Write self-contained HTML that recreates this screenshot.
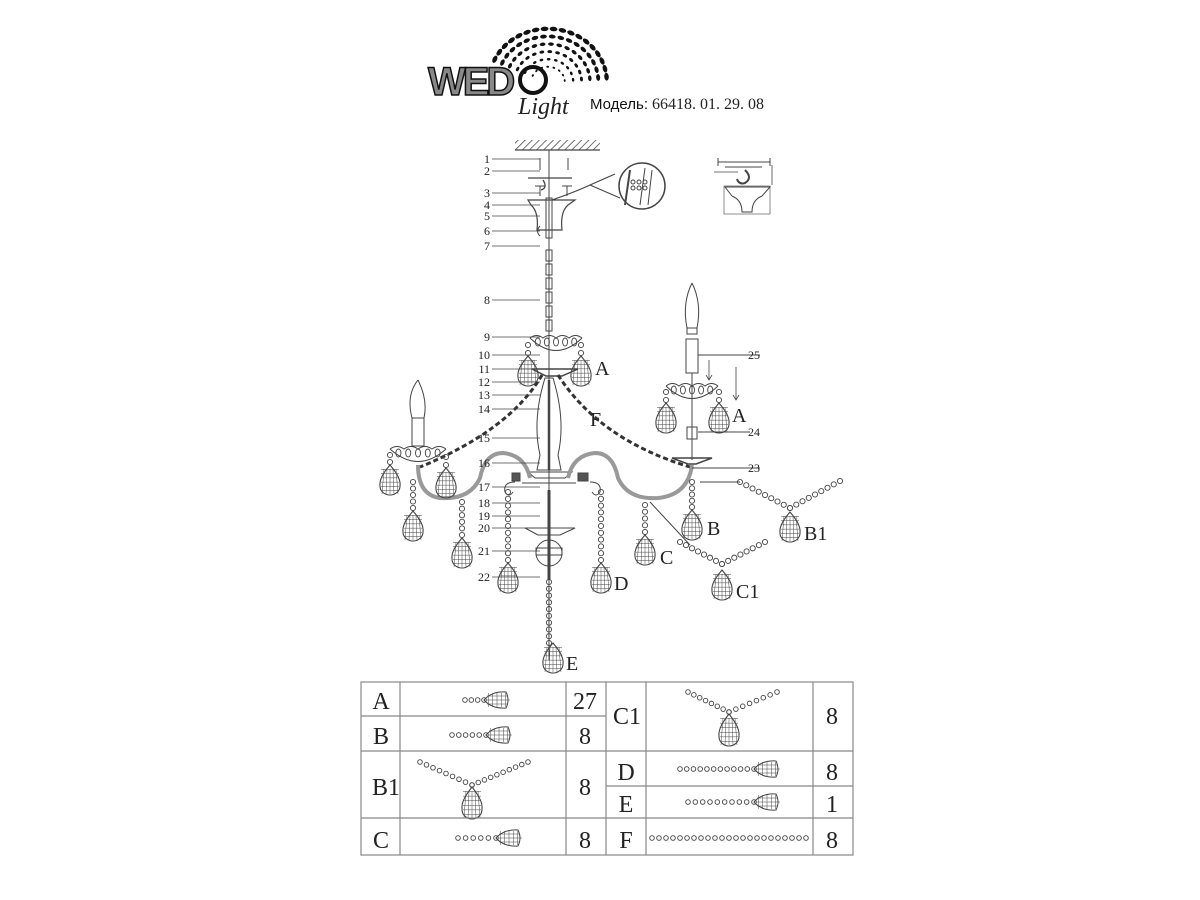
<!DOCTYPE html>
<html><head><meta charset="utf-8"><style>
body{margin:0;background:#fff;width:1200px;height:900px;overflow:hidden}
svg{position:absolute;left:0;top:0}
.t{font-family:"Liberation Serif",serif;fill:#222}
</style></head><body>
<svg id="s" width="1200" height="900" viewBox="0 0 1200 900">
<defs>
<pattern id="hatch" width="5" height="5" patternUnits="userSpaceOnUse" patternTransform="rotate(45)"><line x1="0" y1="0" x2="0" y2="5" stroke="#444" stroke-width="1.5"/></pattern>
</defs>
<g id="logo"></g>
<g>
<text x="428" y="95" font-family="Liberation Sans" font-weight="bold" font-size="40" fill="#888" stroke="#111" stroke-width="1.5" letter-spacing="-3">WED</text>
<circle cx="533" cy="80" r="13" fill="none" stroke="#111" stroke-width="4"/>
<text x="518" y="114" font-family="Liberation Serif" font-style="italic" font-size="24" fill="#222">Light</text>
<text x="590" y="109" font-family="Liberation Sans" font-size="15" fill="#111">Модель:</text>
<text x="652" y="109" class="t" font-size="16">66418. 01. 29. 08</text>
</g>
<g id="draw" stroke="#444" fill="none" stroke-width="1"></g>
<g id="labels" class="t" font-size="12"></g>
<g stroke="#888" stroke-width="1.2" fill="none">
<rect x="361" y="682" width="492" height="173"/>
<line x1="400" y1="682" x2="400" y2="855"/><line x1="566" y1="682" x2="566" y2="855"/><line x1="606" y1="682" x2="606" y2="855"/>
<line x1="646" y1="682" x2="646" y2="855"/><line x1="813" y1="682" x2="813" y2="855"/>
<line x1="361" y1="716" x2="606" y2="716"/><line x1="361" y1="751" x2="853" y2="751"/><line x1="361" y1="818" x2="853" y2="818"/>
<line x1="606" y1="786" x2="853" y2="786"/>
</g>
<g class="t" font-size="24" text-anchor="middle">
<text x="381" y="709">A</text><text x="381" y="744">B</text><text x="386" y="795">B1</text><text x="381" y="848">C</text>
<text x="585" y="709">27</text><text x="585" y="744">8</text><text x="585" y="795">8</text><text x="585" y="848">8</text>
<text x="627" y="724">C1</text><text x="626" y="780">D</text><text x="626" y="812">E</text><text x="626" y="848">F</text>
<text x="832" y="724">8</text><text x="832" y="780">8</text><text x="832" y="812">1</text><text x="832" y="848">8</text>
</g>
<g class="t" font-size="20">
<text x="595" y="375">A</text><text x="732" y="422">A</text><text x="590" y="426">F</text>
<text x="707" y="535">B</text><text x="804" y="540">B1</text><text x="660" y="564">C</text><text x="736" y="598">C1</text>
<text x="614" y="590">D</text><text x="566" y="670">E</text>
</g>
</svg>
<script>
var NS="http://www.w3.org/2000/svg",D=document.getElementById('draw'),L=document.getElementById('labels'),G=document.getElementById('logo');
function el(p,t,a){var e=document.createElementNS(NS,t);for(var k in a)e.setAttribute(k,a[k]);p.appendChild(e);return e}
function drop(x,y,w,h){w=w||20;h=h||30;
 var r=w/2;var d="M"+x+" "+y+" C"+(x+r*0.5)+" "+(y+h*0.2)+" "+(x+r+1)+" "+(y+h*0.45)+" "+(x+r)+" "+(y+h*0.7)+" A"+r+" "+(h*0.3)+" 0 0 1 "+(x-r)+" "+(y+h*0.7)+" C"+(x-r-1)+" "+(y+h*0.45)+" "+(x-r*0.5)+" "+(y+h*0.2)+" "+x+" "+y+"Z";
 el(D,'path',{d:d,'stroke-width':1.1});
 for(var i=1;i<7;i++){var yy=y+h*i/7;el(D,'line',{x1:x-r*0.9,y1:yy,x2:x+r*0.9,y2:yy,'stroke-width':0.5})}
 for(var j=-2;j<=2;j++){el(D,'line',{x1:x+j*r*0.3,y1:y+4,x2:x+j*r*0.4,y2:y+h-1,'stroke-width':0.5})}
}
function hdrop(x,y){var w=26,h=9;
 el(D,'path',{d:"M"+x+" "+y+" Q"+(x+8)+" "+(y-h)+" "+(x+w-4)+" "+(y-h+1)+" Q"+(x+w)+" "+y+" "+(x+w-4)+" "+(y+h-1)+" Q"+(x+8)+" "+(y+h)+" "+x+" "+y+"Z",'stroke-width':1});
 for(var i=1;i<6;i++)el(D,'line',{x1:x+i*w/6,y1:y-h+2,x2:x+i*w/6,y2:y+h-2,'stroke-width':0.5});
 el(D,'line',{x1:x+3,y1:y-4,x2:x+w-2,y2:y-4,'stroke-width':0.5});el(D,'line',{x1:x+3,y1:y,x2:x+w,y2:y,'stroke-width':0.5});el(D,'line',{x1:x+3,y1:y+4,x2:x+w-2,y2:y+4,'stroke-width':0.5});
}
function chain(x1,y1,x2,y2,sp,rr){sp=sp||7;rr=rr||2.6;var dx=x2-x1,dy=y2-y1,l=Math.hypot(dx,dy),n=Math.max(1,Math.round(l/sp));
 for(var i=0;i<=n;i++)el(D,'circle',{cx:x1+dx*i/n,cy:y1+dy*i/n,r:rr,'stroke-width':0.9})}
function pend(x,y1,y2){chain(x,y1,x,y2-3);drop(x,y2)}
function line(a,b,c,d,w){el(D,'line',{x1:a,y1:b,x2:c,y2:d,'stroke-width':w||1})}
function path(d,w,extra){var o={d:d,'stroke-width':w||1};for(var k in extra)o[k]=extra[k];el(D,'path',o)}
// logo dots fan
for(var ring=0;ring<6;ring++){var rad=16+ring*8;var n=8+ring*2;
 for(var i=0;i<n;i++){var a=-2.7+i*(2.6/(n-1));
  el(G,'ellipse',{cx:548+Math.cos(a)*rad*1.05,cy:82+Math.sin(a)*rad*0.95,rx:1.4+ring*0.5,ry:1+ring*0.25,fill:'#111',transform:"rotate("+(a*57.3+90)+" "+(548+Math.cos(a)*rad*1.05)+" "+(82+Math.sin(a)*rad*0.95)+")"})}}
// ceiling
el(D,'rect',{x:515,y:140,width:85,height:10,fill:'url(#hatch)',stroke:'none'});line(515,150,600,150,1.2);
line(549,150,549,660,1);
line(540,158,540,170);line(568,158,568,170);line(528,178,572,178,1.2);
path("M543 180 q5 8 -2 10",1.3);
path("M535 186 h10 M540 186 v10 M562 186 h10 M567 186 v10",1);
path("M528 200 H575 L568 205 Q560 212 562 230 H537 Q539 212 531 205Z",1.2);
el(D,'rect',{x:546,y:198,width:6,height:40});
path("M540 226 q-5 5 0 10",1);
path("M552 200 Q575 192 590 185 L615 174",1.2);path("M590 185 L620 198",1);
el(D,'circle',{cx:642,cy:186,r:23,'stroke-width':1.5});
line(630,170,625,205,2);line(645,168,640,205,1);line(652,170,648,205,1);
for(var k=0;k<6;k++)el(D,'circle',{cx:633+(k%3)*6,cy:182+Math.floor(k/3)*6,r:2});
for(var y=250;y<330;y+=14)el(D,'rect',{x:546,y:y,width:6,height:11});
function bob(x,y,w){path("M"+(x-w)+" "+y+" Q"+x+" "+(y+25)+" "+(x+w)+" "+y,1);
 path("M"+(x-w)+" "+y+" q"+(w/4)+" -5 "+(w/2)+" 0 q"+(w/4)+" -5 "+(w/2)+" 0 q"+(w/4)+" -5 "+(w/2)+" 0 q"+(w/4)+" -5 "+(w/2)+" 0",1);
 for(var i=0;i<5;i++){el(D,'ellipse',{cx:x-w*0.7+i*w*0.35,cy:y+4,rx:2.5,ry:4,'stroke-width':0.9})}}
bob(556,338,26);pend(528,345,356);pend(581,345,356);
path("M532 369 H578 L562 376 H546Z",1.5);
path("M545 378 Q532 420 540 455 L537 470 H561 L558 455 Q566 420 553 378Z",1);
line(549,380,549,470,2.5);
path("M528 472 H572 L565 478 H535Z",1);
path("M542 375 Q510 430 420 467",3,{'stroke-dasharray':'5 3',stroke:'#333'});
path("M558 375 Q600 440 690 467",3,{'stroke-dasharray':'5 3',stroke:'#333'});
path("M530 478 Q525 455 503 453 Q485 453 480 478 Q470 500 440 498 Q418 495 418 465",4,{stroke:'#999'});
path("M568 478 Q573 455 595 453 Q613 453 618 478 Q628 500 658 498 Q688 495 692 465",4,{stroke:'#999'});
el(D,'rect',{x:512,y:473,width:8,height:8,fill:'#555'});el(D,'rect',{x:578,y:473,width:10,height:8,fill:'#555'});
path("M522 483 H576",1);
path("M515 482 q-12 0 -10 10 q4 6 8 0",1);path("M590 482 q12 0 10 10 q-4 6 -8 0",1);
line(549,490,549,580,3);
path("M525 528 H575 L560 535 H538Z",1);
el(D,'circle',{cx:549,cy:553,r:13});el(D,'rect',{x:536,y:548,width:26,height:7});
path("M418 380 q-12 15 -6 38 h12 q4 -18 -6 -38",1);el(D,'rect',{x:412,y:418,width:12,height:28});
bob(418,449,28);pend(390,455,465);pend(446,457,468);
path("M692 283 q-10 20 -5 45 h10 q5 -25 -5 -45",1);el(D,'rect',{x:687,y:328,width:10,height:6});
el(D,'rect',{x:686,y:339,width:12,height:34});line(692,373,692,460);
bob(692,386,26);pend(666,392,403);pend(719,392,403);
el(D,'rect',{x:687,y:427,width:10,height:12});
path("M672 458 H712 L696 464 H688Z",1.5);
path("M709 360 v20 M706 375 l3 5 3-5 M736 367 v33 M733 395 l3 5 3-5",0.8);
line(698,355,760,355);line(698,432,750,432);line(692,468,760,468);line(700,482,740,482);
pend(413,482,511);pend(462,502,538);pend(508,492,563);pend(601,492,563);pend(645,505,535);pend(692,482,510);
chain(740,482,790,508,7);chain(790,508,840,481,7);drop(790,512);
chain(680,542,722,564,7);chain(722,564,765,542,7);drop(722,570);line(650,502,690,545);
chain(549,582,549,643,7);drop(553,643);
line(718,162,770,162);line(725,167,762,167);line(718,158,718,166);line(770,158,770,166);
path("M745 170 q8 8 0 13 q-6 2 -8 -4",2);line(714,172,738,172,0.8);line(772,165,772,185,0.8);
path("M725 187 H770 L762 196 Q752 200 752 212 H742 Q742 200 732 196Z",1);el(D,'rect',{x:724,y:186,width:46,height:28,'stroke-width':0.6});
function tpend(x1,x2,y){chain(x1,y,x2-26,y,7,2.3);hdrop(x2-26,y)}
tpend(465,510,700);tpend(452,512,735);tpend(458,522,838);tpend(680,780,769);tpend(688,780,802);chain(652,838,806,838,7,2.3);
chain(688,692,729,712,7,2.3);chain(729,712,777,692,7,2.3);drop(729,714,20,32);
chain(420,762,472,785,7,2.3);chain(472,785,528,762,7,2.3);drop(472,787,20,32);
var nums=[[1,159],[2,171],[3,193],[4,205],[5,216],[6,231],[7,246],[8,300],[9,337],[10,355],[11,369],[12,382],[13,395],[14,409],[15,438],[16,463],[17,487],[18,503],[19,516],[20,528],[21,551],[22,577]];
nums.forEach(function(n){var t=el(L,'text',{x:490,y:n[1]+4,'text-anchor':'end'});t.textContent=n[0];line(492,n[1],540,n[1],0.8)});
[[25,359],[24,436],[23,472]].forEach(function(n){var t=el(L,'text',{x:748,y:n[1]});t.textContent=n[0]});
</script>
</body></html>
